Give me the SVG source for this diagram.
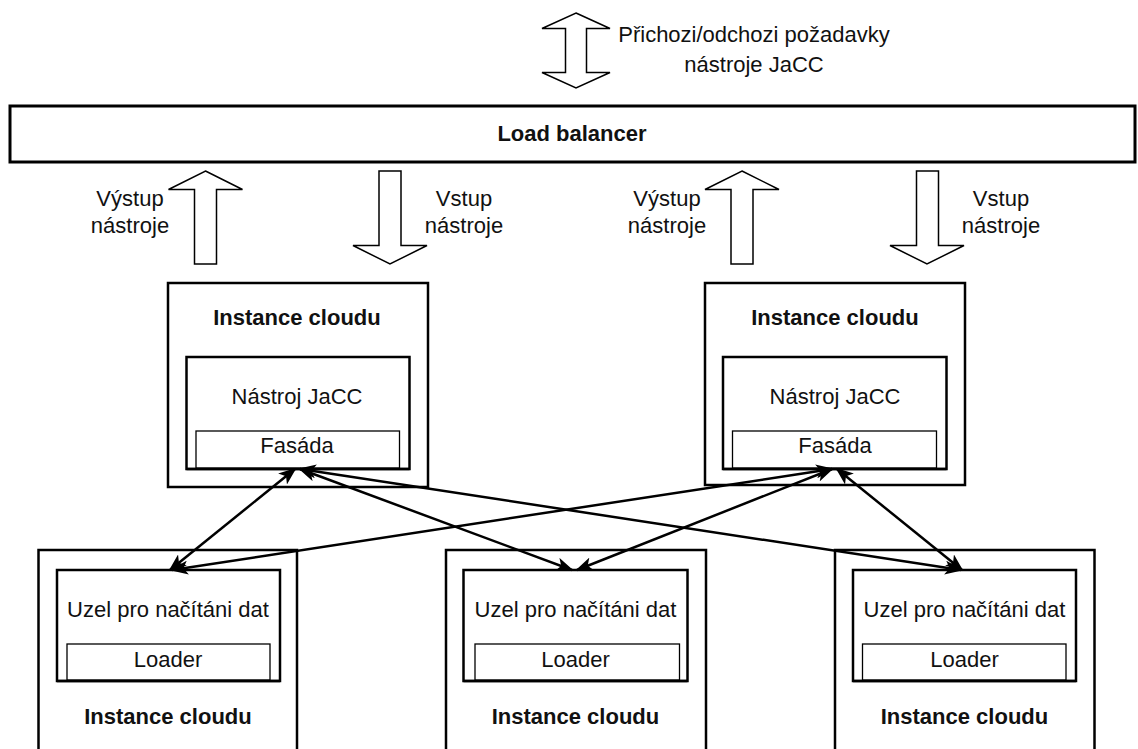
<svg xmlns="http://www.w3.org/2000/svg" width="1138" height="749" viewBox="0 0 1138 749">
  <style>
    .box { fill: #fff; stroke: #000; stroke-width: 2.5; }
    .lb { fill: #fff; stroke: #000; stroke-width: 3; }
    .sub { fill: #fff; stroke: #000; stroke-width: 1.3; }
    .blk { fill: #fff; stroke: #000; stroke-width: 1.5; stroke-linejoin: miter; }
    .t { font-family: "Liberation Sans", Arial, Helvetica, sans-serif; font-size: 22px; fill: #111; text-anchor: middle; }
    .b { font-weight: bold; }
    .link { fill: none; stroke: #000; stroke-width: 2.5; marker-start: url(#ah); marker-end: url(#ah); }
  </style>
  <defs>
    <marker id="ah" viewBox="0 0 18 14" refX="16" refY="7" markerWidth="18" markerHeight="14" markerUnits="userSpaceOnUse" orient="auto-start-reverse">
      <path d="M18,7 L0,0 L4.5,7 L0,14 Z" fill="#000"/>
    </marker>
  </defs>

  <rect width="1138" height="749" fill="#fff"/>

  <!-- incoming / outgoing requests -->
  <g id="requests">
    <polygon class="blk" points="576,13 610,28.5 586.5,28.5 586.5,72.5 610,72.5 576,88 542,72.5 565.5,72.5 565.5,28.5 542,28.5"/>
    <text class="t" x="754" y="42">Přichozi/odchozi požadavky</text>
    <text class="t" x="754" y="72">nástroje JaCC</text>
  </g>

  <!-- load balancer -->
  <g id="load-balancer">
    <rect class="lb" x="10" y="106" width="1125" height="56"/>
    <text class="t b" x="572" y="141">Load balancer</text>
  </g>

  <!-- tool output / input flows -->
  <g id="flow-out-1">
    <polygon class="blk" points="205.5,171 242.5,189.5 216.5,189.5 216.5,264 194.5,264 194.5,189.5 168.5,189.5"/>
    <text class="t" x="130" y="206">Výstup</text>
    <text class="t" x="130" y="233">nástroje</text>
  </g>
  <g id="flow-in-1">
    <polygon class="blk" points="379,171 401,171 401,245.5 427,245.5 390,264 353,245.5 379,245.5"/>
    <text class="t" x="464" y="206">Vstup</text>
    <text class="t" x="464" y="233">nástroje</text>
  </g>
  <g id="flow-out-2">
    <polygon class="blk" points="742,171 779,189.5 753,189.5 753,264 731,264 731,189.5 705,189.5"/>
    <text class="t" x="667" y="206">Výstup</text>
    <text class="t" x="667" y="233">nástroje</text>
  </g>
  <g id="flow-in-2">
    <polygon class="blk" points="916.5,171 938.5,171 938.5,245.5 964,245.5 927,264 890,245.5 916.5,245.5"/>
    <text class="t" x="1001" y="206">Vstup</text>
    <text class="t" x="1001" y="233">nástroje</text>
  </g>

  <!-- cloud instances running the JaCC tool -->
  <g id="tool-instance-1">
    <rect class="box" x="168" y="283" width="260" height="204"/>
    <text class="t b" x="297" y="325">Instance cloudu</text>
    <rect class="box" x="186.5" y="357" width="223" height="112"/>
    <text class="t" x="297" y="404">Nástroj JaCC</text>
    <rect class="sub" x="196" y="431" width="203.5" height="37"/>
    <line x1="186.5" y1="469" x2="409.5" y2="469" stroke="#000" stroke-width="2.5"/>
    <text class="t" x="297" y="453">Fasáda</text>
  </g>
  <g id="tool-instance-2">
    <rect class="box" x="705" y="283" width="260" height="202"/>
    <text class="t b" x="835" y="325">Instance cloudu</text>
    <rect class="box" x="723" y="357" width="223.5" height="112"/>
    <text class="t" x="835" y="404">Nástroj JaCC</text>
    <rect class="sub" x="732.5" y="431" width="204" height="37"/>
    <line x1="723" y1="469" x2="946.5" y2="469" stroke="#000" stroke-width="2.5"/>
    <text class="t" x="835" y="453">Fasáda</text>
  </g>

  <!-- cloud instances with data loading nodes -->
  <g id="loader-instance-1">
    <rect class="box" x="38.5" y="550" width="258.5" height="220"/>
    <rect class="box" x="57" y="570" width="223" height="111"/>
    <text class="t" x="168" y="617">Uzel pro načítáni dat</text>
    <rect class="sub" x="67" y="644" width="203" height="36"/>
    <line x1="57" y1="681" x2="280" y2="681" stroke="#000" stroke-width="2.5"/>
    <text class="t" x="168" y="667">Loader</text>
    <text class="t b" x="168" y="724">Instance cloudu</text>
  </g>
  <g id="loader-instance-2">
    <rect class="box" x="446" y="550" width="260" height="220"/>
    <rect class="box" x="463.5" y="570" width="224" height="111"/>
    <text class="t" x="575.5" y="617">Uzel pro načítáni dat</text>
    <rect class="sub" x="475" y="644" width="204.5" height="36"/>
    <line x1="463.5" y1="681" x2="687.5" y2="681" stroke="#000" stroke-width="2.5"/>
    <text class="t" x="575.5" y="667">Loader</text>
    <text class="t b" x="575.5" y="724">Instance cloudu</text>
  </g>
  <g id="loader-instance-3">
    <rect class="box" x="835" y="550" width="259.5" height="220"/>
    <rect class="box" x="853" y="570" width="223" height="111"/>
    <text class="t" x="964.5" y="617">Uzel pro načítáni dat</text>
    <rect class="sub" x="862.5" y="644" width="203.5" height="36"/>
    <line x1="853" y1="681" x2="1076" y2="681" stroke="#000" stroke-width="2.5"/>
    <text class="t" x="964.5" y="667">Loader</text>
    <text class="t b" x="964.5" y="724">Instance cloudu</text>
  </g>

  <!-- facade to loader connections -->
  <g id="connectors">
    <line class="link" x1="295" y1="469" x2="170" y2="570"/>
    <line class="link" x1="300" y1="469" x2="572" y2="570"/>
    <line class="link" x1="300" y1="469" x2="961" y2="570"/>
    <line class="link" x1="832" y1="469" x2="172" y2="570"/>
    <line class="link" x1="832" y1="469" x2="577" y2="570"/>
    <line class="link" x1="837" y1="469" x2="962" y2="570"/>
  </g>
</svg>
